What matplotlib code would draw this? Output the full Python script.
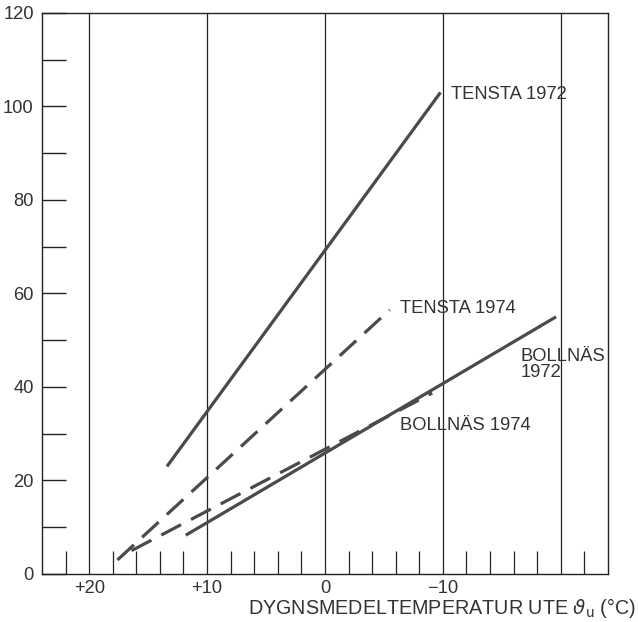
import numpy as np
import matplotlib
matplotlib.use("Agg")
import matplotlib.pyplot as plt

plt.rcParams['font.family'] = ['Liberation Sans', 'DejaVu Sans']
plt.rcParams['mathtext.fontset'] = 'dejavusans'

# line end points: (temperature, value)
tensta72_t = [13.4, -9.8]
tensta72_v = [23.0, 103.0]
tensta74_t = [17.6, -5.5]
tensta74_v = [3.0, 56.5]
bollnas72_t = [11.8, -19.6]
bollnas72_v = [8.3, 55.0]
bollnas74_t = [16.4, -9.1]
bollnas74_v = [5.0, 38.7]

grid_temps = [20, 10, 0, -10, -20]
xtick_vals = [20, 10, 0, -10]
xtick_labels = ['+20', '+10', '0', '\u221210']
ytick_vals = [0, 20, 40, 60, 80, 100, 120]

ink = '#4a4a4a'
txt = '#333333'
fs = 13.2

fig = plt.figure(figsize=(6.38, 6.22), dpi=100)
ax = fig.add_axes([0.0658, 0.0772, 0.887, 0.902])

for t in grid_temps:
    ax.axvline(t, color='#222222', lw=0.9, zorder=1)

ax.plot(tensta72_t, tensta72_v, color=ink, lw=2.3, solid_capstyle='butt', zorder=3)
ax.plot(bollnas72_t, bollnas72_v, color=ink, lw=2.3, solid_capstyle='butt', zorder=3)
ax.plot(tensta74_t, tensta74_v, color=ink, lw=2.3, dashes=(7, 3.5), zorder=3)
ax.plot(bollnas74_t, bollnas74_v, color=ink, lw=2.3, dashes=(7, 3.5), zorder=3)

ax.set_xlim(24, -24)
ax.set_ylim(0, 120)

ax.set_xticks(xtick_vals)
ax.set_xticklabels(xtick_labels)
ax.set_xticks([t for t in range(-22, 24, 2) if t % 10 != 0], minor=True)
ax.tick_params(axis='x', which='major', length=0, pad=4.5, labelsize=fs, labelcolor=txt)
ax.tick_params(axis='x', which='minor', direction='in', length=16.5, width=0.9, color='#222222')

ax.set_yticks(ytick_vals)
ax.set_yticks([10, 30, 50, 70, 90, 110], minor=True)
ax.tick_params(axis='y', which='both', direction='in', length=17, width=1.0, color='#222222')
ax.tick_params(axis='y', which='major', pad=6, labelsize=fs, labelcolor=txt)

for s in ax.spines.values():
    s.set_color('#222222')
    s.set_linewidth(1.0)

ax.text(-10.7, 102.5, 'TENSTA 1972', fontsize=fs, color=txt, va='center', ha='left')
ax.text(-6.4, 56.8, 'TENSTA 1974', fontsize=fs, color=txt, va='center', ha='left')
ax.text(-16.6, 44.8, 'BOLLNÄS\n1972', fontsize=fs, color=txt, va='center', ha='left',
        linespacing=0.95)
ax.text(-6.4, 31.8, 'BOLLNÄS 1974', fontsize=fs, color=txt, va='center', ha='left')

fig.text(0.997, 0.004, r'DYGNSMEDELTEMPERATUR UTE $\vartheta_{\mathrm{u}}$ (°C)',
         fontsize=14.2, color=txt, ha='right', va='bottom')

fig.savefig('out.png', dpi=100)
